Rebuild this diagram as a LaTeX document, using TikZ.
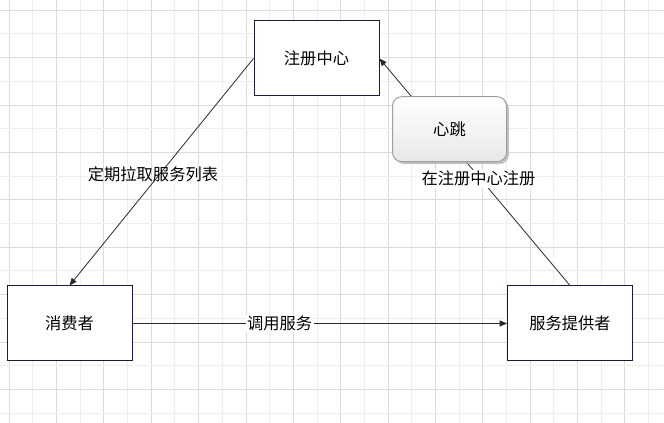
\documentclass[tikz,border=0pt]{standalone}
\usepackage{fontspec}
\setmainfont{Noto Sans CJK SC}
\usetikzlibrary{arrows.meta,shadows}
\definecolor{gridA}{HTML}{DBDBDB}
\definecolor{gridB}{HTML}{EEEEEE}
\definecolor{boxline}{HTML}{1B1B3F}
\definecolor{conn}{HTML}{2A2A2A}
\tikzset{
  box/.style={draw=boxline, line width=0.75pt, fill=white, minimum width=93.75pt, minimum height=56.25pt, inner sep=0pt, font=\fontsize{12.2}{14}\selectfont},
  hb/.style={draw=gray!75, line width=0.75pt, rounded corners=7pt, top color=white, bottom color=gray!18, minimum width=85.5pt, minimum height=48.75pt, inner sep=0pt, font=\fontsize{12.2}{14}\selectfont, drop shadow={shadow xshift=1.8pt, shadow yshift=-1.8pt, fill=gray!60, opacity=0.8}},
  conn/.style={draw=conn, line width=0.6pt, -{Triangle[length=5.5pt,width=4.5pt]}},
  lbl/.style={font=\fontsize{12.2}{14}\selectfont, inner sep=1pt},
}
\begin{document}
\begin{tikzpicture}[x=0.75pt,y=-0.75pt]
\useasboundingbox (0,0) rectangle (664,423);
\fill[white] (0,0) rectangle (664,423);
% grid
\foreach \k in {0,...,27} {
  \pgfmathsetmacro{\xx}{9.3+23.67*\k}
  \pgfmathtruncatemacro{\ev}{mod(\k,2)}
  \ifnum\ev=0 \draw[gridA, line width=0.75pt] (\xx,0) -- (\xx,423); \else \draw[gridB, line width=0.75pt] (\xx,0) -- (\xx,423); \fi
}
\foreach \k in {0,...,17} {
  \pgfmathsetmacro{\yy}{10.3+23.7*\k}
  \pgfmathtruncatemacro{\ev}{mod(\k,2)}
  \ifnum\ev=0 \draw[gridA, line width=0.75pt] (0,\yy) -- (664,\yy); \else \draw[gridB, line width=0.75pt] (0,\yy) -- (664,\yy); \fi
}
% nodes
\node[box] (zc) at (316.5,58.5) {注册中心};
\node[box] (xf) at (69.5,323.5) {消费者};
\node[box] (tg) at (570,323.5) {服务提供者};
% connectors
\draw[conn] (zc.west) -- node[lbl, pos=0.51, xshift=-5pt] (l1) {定期拉取服务列表} (xf.north);
\draw[conn] (tg.north) -- node[lbl, pos=0.47, fill=white, xshift=-1.5pt] (l2) {在注册中心注册} (zc.east);
\draw[conn] (xf.east) -- node[lbl, pos=0.393, fill=white] (l3) {调用服务} (tg.west);
% heartbeat box
\node[hb] (xt) at (449.5,129.2) {心跳};
\end{tikzpicture}
\end{document}
